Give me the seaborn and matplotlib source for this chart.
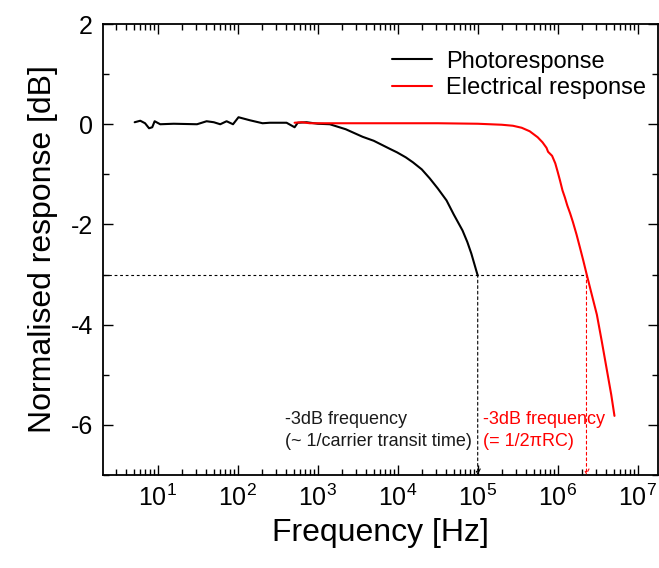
import matplotlib
matplotlib.use("Agg")
import matplotlib.pyplot as plt
import matplotlib.ticker as mticker
import numpy as np
import pandas as pd
import seaborn as sns

# ---- data ----
photo_freq = [5.13, 6.03, 6.92, 7.76, 8.51, 9.12, 10.7, 15.8, 30.9, 35.5, 40.7, 50.1,
              60.3, 72.4, 87.1, 102, 141, 204, 251, 407, 513, 562, 724, 1000, 1413,
              2239, 3631, 5012, 6310, 7943, 9772, 12590, 15490, 19950, 25120, 31620,
              40740, 50120, 64570, 74130, 83180, 91200, 100000]
photo_resp = [0.04, 0.07, 0.02, -0.08, -0.06, 0.06, 0.0, 0.01, 0.0, 0.03, 0.06, 0.04,
              0.0, 0.06, 0.0, 0.14, 0.08, 0.02, 0.03, 0.03, -0.06, 0.03, 0.04, 0.01, 0.0,
              -0.1, -0.25, -0.33, -0.41, -0.49, -0.56, -0.66, -0.76, -0.9, -1.08, -1.28,
              -1.52, -1.8, -2.12, -2.35, -2.58, -2.8, -3.02]

elec_freq = [513, 631, 794, 1000, 3162, 10000, 31620, 100000, 200000, 275400, 354800,
             446700, 562300, 645700, 724400, 758600, 851100, 933000, 1.0e6, 1.072e6,
             1.148e6, 1.230e6, 1.318e6, 1.432e6, 1.549e6, 1.72e6, 1.905e6, 2.09e6,
             2.291e6, 2.63e6, 3.09e6, 3.548e6, 4.074e6, 4.677e6, 5.129e6]
elec_resp = [0.03, 0.04, 0.02, 0.02, 0.02, 0.02, 0.02, 0.01, -0.01, -0.03, -0.07,
             -0.14, -0.26, -0.36, -0.47, -0.55, -0.63, -0.78, -0.95, -1.13,
             -1.32, -1.46, -1.62, -1.78, -1.95, -2.2, -2.47, -2.72,
             -2.98, -3.36, -3.8, -4.32, -4.86, -5.4, -5.82]

series_names = ["Photoresponse", "Electrical response"]
series_colors = ["black", "red"]

cutoff_db = -3
photo_cutoff = 1e5
elec_cutoff = 2.291e6

x_limits = (2.05, 1.78e7)
y_limits = (-7, 2)
x_major = [1e1, 1e2, 1e3, 1e4, 1e5, 1e6, 1e7]

# ---- style ----
sns.set_style("ticks")
plt.rcParams["font.family"] = ["Liberation Sans", "DejaVu Sans"]
plt.rcParams["mathtext.fontset"] = "custom"
plt.rcParams["mathtext.rm"] = "Liberation Sans"
plt.rcParams["mathtext.it"] = "Liberation Sans:italic"
plt.rcParams["mathtext.bf"] = "Liberation Sans:bold"
plt.rcParams["axes.unicode_minus"] = False
for k in ["text.color", "axes.labelcolor", "xtick.color", "ytick.color", "axes.edgecolor"]:
    plt.rcParams[k] = "black"

fig = plt.figure(figsize=(6.59, 5.68), dpi=100)
ax = fig.add_axes([0.156, 0.1637, 0.842, 0.794])

df_photo = pd.DataFrame({"Frequency": photo_freq, "Response": photo_resp})
df_elec = pd.DataFrame({"Frequency": elec_freq, "Response": elec_resp})

sns.lineplot(data=df_photo, x="Frequency", y="Response", ax=ax, color=series_colors[0],
             lw=1.5, label=series_names[0], estimator=None, sort=False)
sns.lineplot(data=df_elec, x="Frequency", y="Response", ax=ax, color=series_colors[1],
             lw=1.5, label=series_names[1], estimator=None, sort=False)

ax.set_xscale("log")
ax.set_xlim(*x_limits)
ax.set_ylim(*y_limits)

# -3 dB guide lines
ax.plot([x_limits[0], elec_cutoff], [cutoff_db, cutoff_db], color="black", lw=0.8,
        linestyle=(0, (2.5, 2.5)))
ax.annotate("", xy=(photo_cutoff, y_limits[0]), xytext=(photo_cutoff, cutoff_db),
            arrowprops=dict(arrowstyle="->,head_length=0.35,head_width=0.18", color="black",
                            lw=0.8, linestyle=(0, (2.5, 2.5)), shrinkA=0, shrinkB=0))
ax.annotate("", xy=(elec_cutoff, y_limits[0]), xytext=(elec_cutoff, cutoff_db),
            arrowprops=dict(arrowstyle="->,head_length=0.35,head_width=0.18", color="red",
                            lw=0.8, linestyle=(0, (2.5, 2.5)), shrinkA=0, shrinkB=0))

ax.text(0.328, 0.143, "-3dB frequency\n(~ 1/carrier transit time)", transform=ax.transAxes,
        fontsize=13, color="#1a1a1a", ha="left", va="top", linespacing=1.45)
ax.text(0.685, 0.143, "-3dB frequency\n(= 1/2\u03c0RC)", transform=ax.transAxes,
        fontsize=13, color="red", ha="left", va="top", linespacing=1.45)

# axes labels
ax.set_xlabel("Frequency [Hz]", fontsize=23, labelpad=5)
ax.set_ylabel("Normalised response [dB]", fontsize=23, labelpad=9)

# ticks
ax.yaxis.set_major_locator(mticker.MultipleLocator(2))
ax.yaxis.set_minor_locator(mticker.MultipleLocator(1))
ax.set_xticks(x_major)
ax.xaxis.set_major_formatter(mticker.LogFormatterMathtext())
ax.xaxis.set_minor_locator(mticker.LogLocator(base=10, subs=np.arange(2, 10), numticks=20))
ax.xaxis.set_minor_formatter(mticker.NullFormatter())
ax.set_xlim(*x_limits)
ax.tick_params(axis="both", which="both", direction="in", top=True, right=True, width=1.0)
ax.tick_params(axis="both", which="major", length=7, labelsize=18, pad=7)
ax.tick_params(axis="both", which="minor", length=4)

for sp in ax.spines.values():
    sp.set_linewidth(1.3)
    sp.set_visible(True)

leg = ax.legend(loc="upper left", bbox_to_anchor=(0.521, 0.941), frameon=False, fontsize=17,
                handlelength=1.7, handletextpad=0.6, labelspacing=0.2, borderpad=0,
                borderaxespad=0)
for h in leg.get_lines():
    h.set_linewidth(1.5)

fig.savefig("out.png", dpi=100)
